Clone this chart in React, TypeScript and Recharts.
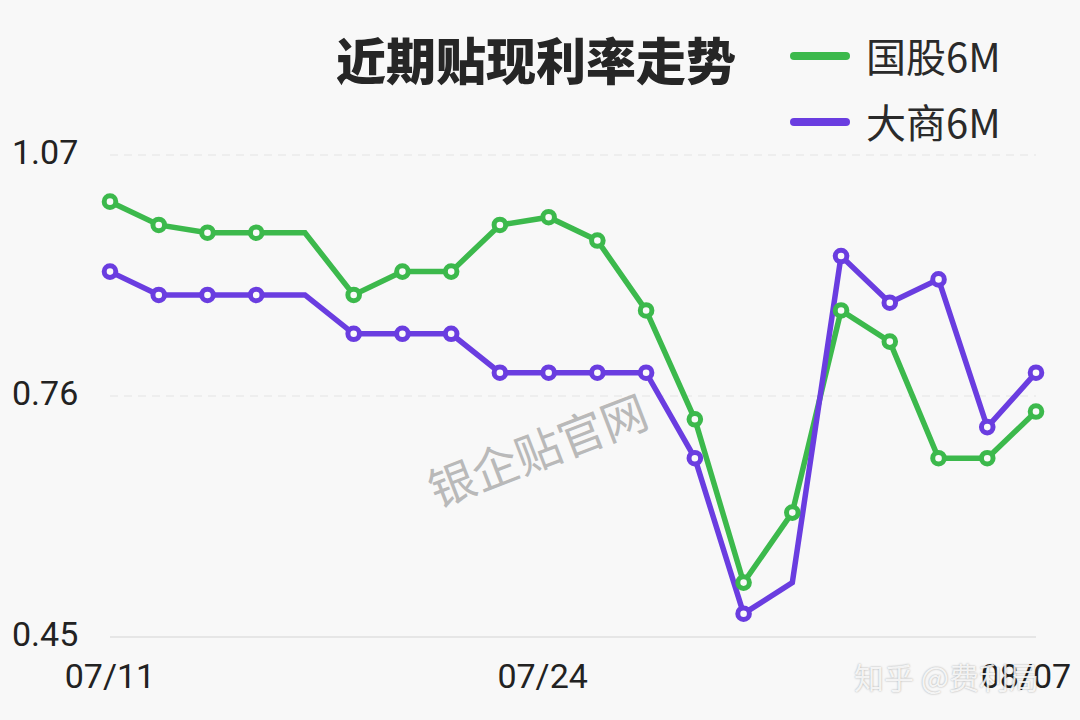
import React from "react";
import { CartesianGrid, Line, LineChart, XAxis, YAxis } from "recharts";

const dates = [
  "07/11", "07/14", "07/15", "07/16", "07/17", "07/18", "07/21", "07/22", "07/23", "07/24",
  "07/25", "07/28", "07/29", "07/30", "07/31", "08/01", "08/04", "08/05", "08/06", "08/07"
];
const guoGu = [
  1.01, 0.98, 0.97, 0.97, 0.97, 0.89, 0.92, 0.92, 0.98, 0.99,
  0.96, 0.87, 0.73, 0.52, 0.61, 0.87, 0.83, 0.68, 0.68, 0.74
];
const daShang = [
  0.92, 0.89, 0.89, 0.89, 0.89, 0.84, 0.84, 0.84, 0.79, 0.79,
  0.79, 0.79, 0.68, 0.48, 0.52, 0.94, 0.88, 0.91, 0.72, 0.79
];
const xTicks = ["07/11", "07/24", "08/07"];
const yTicks = [0.45, 0.76, 1.07];

// points drawn without a marker in the original
const guoGuNoDot = [4];
const daShangNoDot = [4, 14];

const GREEN = "#3cb94c";
const PURPLE = "#6a3de0";
const FONT_CJK = '"Noto Sans CJK SC", "Noto Sans", sans-serif';

const data = dates.map((d, i) => ({ date: d, guoGu: guoGu[i], daShang: daShang[i] }));

const makeDot = (color: string, skip: number[]) => (props: any) => {
  const { cx, cy, index } = props;
  if (skip.includes(index)) return <g key={`d-${index}`} />;
  return <circle key={`d-${index}`} cx={cx} cy={cy} r={5.8} fill="#fafafa" stroke={color} strokeWidth={5} />;
};

const XTick = (props: any) => {
  const { x, y, payload, index } = props;
  if (!xTicks.includes(payload.value)) return <g />;
  const last = payload.value === xTicks[xTicks.length - 1];
  const mid = payload.value === xTicks[1];
  return (
    <text
      x={last ? x - 10 : mid ? x - 6 : x}
      y={y + 31}
      textAnchor="middle"
      dominantBaseline="central"
      fontFamily="Roboto, sans-serif"
      fontSize={34}
      fill="#222"
      key={index}
    >
      {payload.value}
    </text>
  );
};

const YTick = (props: any) => {
  const { y, payload } = props;
  return (
    <text x={12} y={y - 3} textAnchor="start" dominantBaseline="central" fontFamily="Roboto, sans-serif" fontSize={34} fill="#222">
      {payload.value.toFixed(2)}
    </text>
  );
};

export default function App() {
  return (
    <div style={{ position: "absolute", left: 0, top: 0, width: 1080, height: 720, background: "#f8f8f8", overflow: "hidden" }}>
      <LineChart width={1080} height={720} data={data} margin={{ top: 155, right: 44, left: 0, bottom: 43 }}>
        <CartesianGrid vertical={false} stroke="#e4e4e4" strokeDasharray="8 6" />
        <XAxis
          dataKey="date"
          interval={0}
          height={40}
          axisLine={{ stroke: "#e6e6e6", strokeWidth: 2 }}
          tickLine={false}
          tick={<XTick />}
        />
        <YAxis width={110} domain={[0.45, 1.07]} ticks={yTicks} axisLine={false} tickLine={false} tick={<YTick />} />
        <Line
          type="linear"
          dataKey="guoGu"
          stroke={GREEN}
          strokeWidth={5.5}
          dot={makeDot(GREEN, guoGuNoDot)}
          isAnimationActive={false}
        />
        <Line
          type="linear"
          dataKey="daShang"
          stroke={PURPLE}
          strokeWidth={5.5}
          dot={makeDot(PURPLE, daShangNoDot)}
          isAnimationActive={false}
        />
      </LineChart>

      <div style={{ position: "absolute", left: 336, top: 29, fontFamily: FONT_CJK, fontWeight: 900, fontSize: 50, lineHeight: "58px", color: "#262626", whiteSpace: "nowrap" }}>
        近期贴现利率走势
      </div>

      {[
        { name: "国股6M", color: GREEN, y: 56 },
        { name: "大商6M", color: PURPLE, y: 122 }
      ].map((item) => (
        <div key={item.name}>
          <div style={{ position: "absolute", left: 790, top: item.y - 4, width: 60, height: 8, borderRadius: 4, background: item.color }} />
          <div style={{ position: "absolute", left: 866, top: item.y - 25, fontFamily: FONT_CJK, fontSize: 40, lineHeight: "48px", color: "#2a2a2a", whiteSpace: "nowrap" }}>
            {item.name}
          </div>
        </div>
      ))}

      <div style={{ position: "absolute", left: 537, top: 448, transform: "translate(-50%, -50%) rotate(-21deg)", fontFamily: FONT_CJK, fontSize: 46, color: "#b9b9b9", whiteSpace: "nowrap" }}>
        银企贴官网
      </div>

      <div style={{ position: "absolute", left: 854, top: 656, fontFamily: FONT_CJK, fontSize: 30, lineHeight: "40px", color: "rgba(255,255,255,0.85)", textShadow: "0 0 2px rgba(0,0,0,0.35)", whiteSpace: "nowrap" }}>
        知乎 @费利局
      </div>
    </div>
  );
}
